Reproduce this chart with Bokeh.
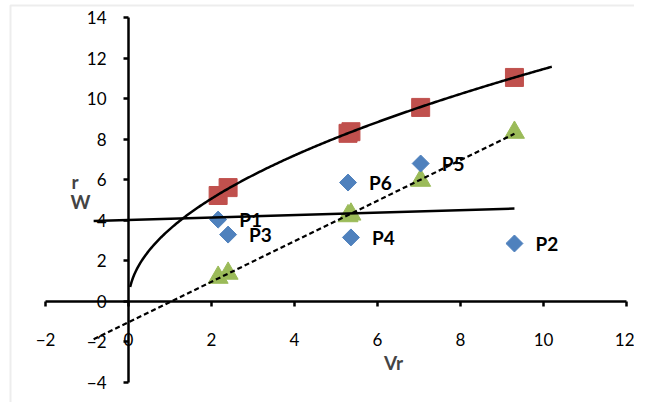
import numpy as np
from bokeh.plotting import figure
from bokeh.models import Range1d, LinearAxis, Label, FixedTicker, ColumnDataSource, BoxAnnotation
from bokeh.core.properties import value
from bokeh.embed import file_html
from bokeh.resources import INLINE

# ---- data ----
point_names = ["P1", "P2", "P3", "P4", "P5", "P6"]
vr = [2.16, 9.30, 2.40, 5.36, 7.04, 5.29]
w_blue = [4.02, 2.84, 3.28, 3.14, 6.79, 5.85]
w_red = [5.21, 11.04, 5.60, 8.36, 9.56, 8.28]
w_green = [1.16, 8.32, 1.36, 4.28, 5.95, 4.20]
x_ticks = [-2, 0, 2, 4, 6, 8, 10, 12]
y_ticks = [-4, -2, 0, 2, 4, 6, 8, 10, 12, 14]
x_axis_bounds = (-2, 12)
y_axis_bounds = (-4, 14)

# trendline settings (Excel-style forecasts)
backward_linear = 3.0
forward_power = 0.9
power_start = 0.04

FONT = "Lato"
W, H = 634, 402
# pixel layout of the axes box inside the canvas
ax_left_px, ax_right_px = 45.0, 626.0
ax_top_px, ax_bottom_px = 17.0, 381.5
sx = (ax_right_px - ax_left_px) / (x_axis_bounds[1] - x_axis_bounds[0])
sy = (ax_bottom_px - ax_top_px) / (y_axis_bounds[1] - y_axis_bounds[0])
x_range = Range1d(x_axis_bounds[0] - ax_left_px / sx, x_axis_bounds[0] + (W - ax_left_px) / sx)
y_range = Range1d(y_axis_bounds[1] - (H - ax_top_px) / sy, y_axis_bounds[1] + ax_top_px / sy)

p = figure(width=W, height=H, x_range=x_range, y_range=y_range,
           output_backend="svg", toolbar_location=None,
           x_axis_location=None, y_axis_location=None,
           min_border_left=0, min_border_right=0, min_border_top=0, min_border_bottom=0)
p.outline_line_color = None
p.background_fill_color = "white"
p.border_fill_color = "white"
p.grid.visible = False
p.xgrid.visible = False
p.ygrid.visible = False

for ax, loc, ticks, bnds in ((LinearAxis(fixed_location=0), "below", x_ticks, x_axis_bounds),
                             (LinearAxis(fixed_location=0), "left", y_ticks, y_axis_bounds)):
    ax.ticker = FixedTicker(ticks=ticks)
    ax.bounds = bnds
    ax.axis_line_width = 2.5
    ax.axis_line_color = "black"
    ax.major_tick_line_width = 2.5
    ax.major_tick_line_color = "black"
    ax.major_tick_out = 5
    ax.major_tick_in = 0
    ax.minor_tick_line_color = None
    ax.major_label_text_font = FONT
    ax.major_label_text_font_size = "17px"
    ax.major_label_text_color = "black"
    ax.major_label_standoff = 27 if loc == "below" else 17
    p.add_layout(ax, loc)

# chart-area border (left and top edges visible in the window)
p.add_layout(BoxAnnotation(left=10, right=W + 200, top=H - 5, bottom=-200,
                           left_units="screen", right_units="screen",
                           top_units="screen", bottom_units="screen",
                           fill_alpha=0, line_color="#C4C4C4", line_width=2, level="underlay"))

# markers
p.scatter(vr, w_red, marker="square", size=18, color="#C0504D")
p.scatter(vr, w_green, marker="triangle", size=20, color="#9BBB59")
p.scatter(vr, w_blue, marker="square", size=12, angle=np.pi / 4, color="#4F81BD")

# point labels
lab_src = ColumnDataSource(dict(x=vr, y=w_blue, t=point_names))
p.text(x="x", y="y", text="t", source=lab_src, x_offset=21,
       text_font=value(FONT), text_font_style="bold", text_font_size="19px",
       text_baseline="middle", text_align="left", text_color="black")

# linear trendline through blue
xs = np.array(vr)
m_b, c_b = np.polyfit(xs, np.array(w_blue), 1)
xl = np.array([xs.min() - backward_linear, xs.max()])
p.line(xl, m_b * xl + c_b, line_color="black", line_width=2.5)

# linear dashed trendline through green
m_g, c_g = np.polyfit(xs, np.array(w_green), 1)
p.line(xl, m_g * xl + c_g, line_color="black", line_width=2.2, line_dash="5 3")

# power trendline through red
b_r, lna_r = np.polyfit(np.log(xs), np.log(np.array(w_red)), 1)
xc = np.linspace(power_start, xs.max() + forward_power, 300)
p.line(xc, np.exp(lna_r) * xc ** b_r, line_color="black", line_width=2.5)

# axis titles (screen units: from frame left / frame bottom)
def title(txt, x, y_from_top):
    p.add_layout(Label(x=x, y=H - y_from_top, x_units="screen", y_units="screen", text=txt,
                       text_font=FONT, text_font_style="bold", text_font_size="19px",
                       text_align="center", text_baseline="middle"))

title("Vr", 393, 362)
title("r", 74.5, 181)
title("W", 80, 201)

open("out.html", "w").write(file_html(p, INLINE))
